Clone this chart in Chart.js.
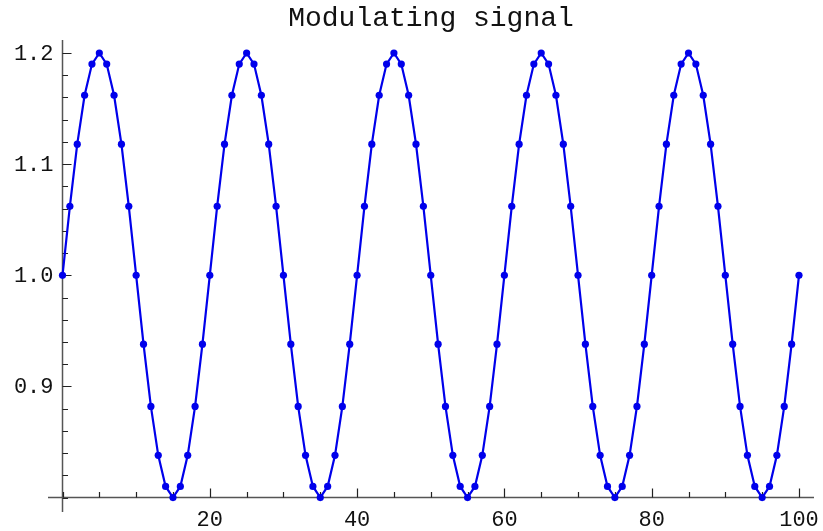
<!DOCTYPE html>
<html>
<head>
<meta charset="utf-8">
<script src="https://cdn.jsdelivr.net/npm/chart.js@4"></script>
<style>
  html, body { margin: 0; padding: 0; background: #fff; }
  #wrap { width: 823px; height: 531px; }
</style>
</head>
<body>
<div id="wrap"><canvas id="signalChart" width="823" height="531"></canvas></div>
<script>
// Modulating signal data
const chartTitle = 'Modulating signal';
const xs = [
  0, 1, 2, 3, 4, 5, 6, 7, 8, 9, 10, 11, 12, 13, 14, 15, 16, 17, 18, 19,
  20, 21, 22, 23, 24, 25, 26, 27, 28, 29, 30, 31, 32, 33, 34, 35, 36, 37, 38, 39,
  40, 41, 42, 43, 44, 45, 46, 47, 48, 49, 50, 51, 52, 53, 54, 55, 56, 57, 58, 59,
  60, 61, 62, 63, 64, 65, 66, 67, 68, 69, 70, 71, 72, 73, 74, 75, 76, 77, 78, 79,
  80, 81, 82, 83, 84, 85, 86, 87, 88, 89, 90, 91, 92, 93, 94, 95, 96, 97, 98, 99,
  100
];
const ys = [
  1.000, 1.062, 1.118, 1.162, 1.190, 1.200, 1.190, 1.162, 1.118, 1.062,
  1.000, 0.938, 0.882, 0.838, 0.810, 0.800, 0.810, 0.838, 0.882, 0.938,
  1.000, 1.062, 1.118, 1.162, 1.190, 1.200, 1.190, 1.162, 1.118, 1.062,
  1.000, 0.938, 0.882, 0.838, 0.810, 0.800, 0.810, 0.838, 0.882, 0.938,
  1.000, 1.062, 1.118, 1.162, 1.190, 1.200, 1.190, 1.162, 1.118, 1.062,
  1.000, 0.938, 0.882, 0.838, 0.810, 0.800, 0.810, 0.838, 0.882, 0.938,
  1.000, 1.062, 1.118, 1.162, 1.190, 1.200, 1.190, 1.162, 1.118, 1.062,
  1.000, 0.938, 0.882, 0.838, 0.810, 0.800, 0.810, 0.838, 0.882, 0.938,
  1.000, 1.062, 1.118, 1.162, 1.190, 1.200, 1.190, 1.162, 1.118, 1.062,
  1.000, 0.938, 0.882, 0.838, 0.810, 0.800, 0.810, 0.838, 0.882, 0.938,
  1.000
];
const xTicks = [20, 40, 60, 80, 100];
const xTickLabels = ['20', '40', '60', '80', '100'];
const yTicks = [0.9, 1.0, 1.1, 1.2];
const yTickLabels = ['0.9', '1.0', '1.1', '1.2'];
const xMinorTicks = [0, 5, 10, 15, 25, 30, 35, 45, 50, 55, 65, 70, 75, 85, 90, 95];
const yMinorTicks = [0.8, 0.82, 0.84, 0.86, 0.88, 0.92, 0.94, 0.96, 0.98,
  1.02, 1.04, 1.06, 1.08, 1.12, 1.14, 1.16, 1.18];

const monoFont = '"Liberation Mono", "DejaVu Sans Mono", monospace';

// axes crossing at (0, 0.8), mathematica style
const crossAxes = {
  id: 'crossAxes',
  beforeDatasetsDraw(chart) {
    const { ctx, chartArea, scales: { x, y } } = chart;
    const x0 = x.getPixelForValue(0);
    const y0 = y.getPixelForValue(0.8);
    ctx.save();
    ctx.strokeStyle = '#555';
    ctx.lineWidth = 1.5;
    ctx.beginPath();
    ctx.moveTo(chartArea.left, y0);
    ctx.lineTo(chartArea.right, y0);
    ctx.moveTo(x0, chartArea.top);
    ctx.lineTo(x0, chartArea.bottom);
    ctx.stroke();

    ctx.strokeStyle = '#222';
    ctx.lineWidth = 1.2;
    ctx.beginPath();
    xTicks.forEach(v => {
      const px = Math.round(x.getPixelForValue(v)) + 0.5;
      ctx.moveTo(px, y0);
      ctx.lineTo(px, y0 - 9);
    });
    xMinorTicks.forEach(v => {
      const px = Math.round(x.getPixelForValue(v)) + 0.5;
      ctx.moveTo(px, y0);
      ctx.lineTo(px, y0 - 5.5);
    });
    yTicks.forEach(v => {
      const py = Math.round(y.getPixelForValue(v)) + 0.5;
      ctx.moveTo(x0, py);
      ctx.lineTo(x0 + 9, py);
    });
    yMinorTicks.forEach(v => {
      const py = Math.round(y.getPixelForValue(v)) + 0.5;
      ctx.moveTo(x0, py);
      ctx.lineTo(x0 + 5.5, py);
    });
    ctx.stroke();

    ctx.fillStyle = '#111';
    ctx.font = '22px ' + monoFont;
    ctx.textAlign = 'center';
    ctx.textBaseline = 'alphabetic';
    xTicks.forEach((v, i) => {
      ctx.fillText(xTickLabels[i], x.getPixelForValue(v), y0 + 28);
    });
    ctx.textAlign = 'right';
    ctx.textBaseline = 'middle';
    yTicks.forEach((v, i) => {
      ctx.fillText(yTickLabels[i], x0 - 9, y.getPixelForValue(v) + 1);
    });

    ctx.textAlign = 'center';
    ctx.font = '28px ' + monoFont;
    ctx.fillText(chartTitle, (chartArea.left + chartArea.right) / 2, 19);
    ctx.restore();
  }
};

const ctx = document.getElementById('signalChart').getContext('2d');
new Chart(ctx, {
  type: 'line',
  data: {
    datasets: [{
      label: chartTitle,
      data: xs.map((v, i) => ({ x: v, y: ys[i] })),
      borderColor: 'rgb(0, 0, 235)',
      backgroundColor: 'rgb(0, 0, 235)',
      borderWidth: 2.2,
      pointRadius: 3.6,
      pointBorderWidth: 0,
      pointBackgroundColor: 'rgb(0, 0, 235)',
      tension: 0,
      clip: false
    }]
  },
  options: {
    responsive: false,
    animation: false,
    devicePixelRatio: 1,
    layout: {
      padding: { left: 48, right: 9, top: 40, bottom: 19 }
    },
    plugins: {
      legend: { display: false },
      tooltip: { enabled: false },
      title: { display: false }
    },
    scales: {
      x: { type: 'linear', min: -1.97, max: 102.04, display: false },
      y: { type: 'linear', min: 0.787, max: 1.2117, display: false }
    }
  },
  plugins: [crossAxes]
});
</script>
</body>
</html>
